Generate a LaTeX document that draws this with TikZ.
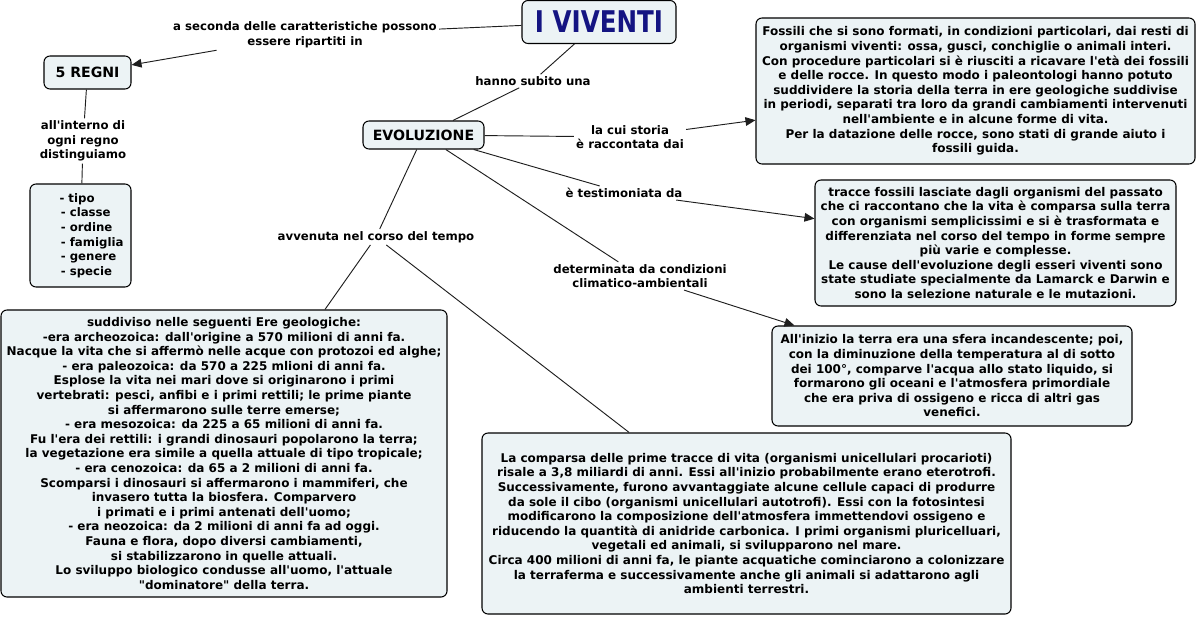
\documentclass[tikz,border=0pt]{standalone}
\usepackage{fontspec}
\setmainfont{DejaVu Sans}
\usetikzlibrary{arrows.meta}
\definecolor{boxfill}{RGB}{236,243,245}
\definecolor{navy}{RGB}{20,20,130}
\definecolor{linec}{RGB}{30,30,30}
\newcommand\ap{\textquotesingle}
\newcommand\qd{\textquotedbl}
\tikzset{
  x=0.75pt,y=-0.75pt,
  cbox/.style={draw=black,line width=0.8pt,rounded corners=4.5pt,fill=boxfill,align=center,inner sep=0pt},
  bodytext/.style={font=\bfseries\fontsize{9.0}{10.95}\selectfont},
  lbl/.style={align=center,inner sep=1.5pt,font=\bfseries\fontsize{8.8}{10.95}\selectfont},
  conc/.style={font=\bfseries\fontsize{10.6}{12}\selectfont},
  link/.style={draw=linec,line width=0.7pt},
  arr/.style={link,-{Triangle[length=7.5pt,width=6.5pt]}}
}
\begin{document}
\begin{tikzpicture}
\useasboundingbox (0,0) rectangle (1198,617);
% concept boxes
\node[cbox,minimum width=115.5pt,minimum height=32.25pt,text=navy,font=\bfseries\fontsize{19}{22}\selectfont] (viventi) at (599,22) {\scalebox{0.97}[1.18]{I VIVENTI}};
\node[cbox,conc,minimum width=65.25pt,minimum height=24.75pt] (regni) at (87.5,72.5) {5 REGNI};
\node[cbox,font=\bfseries\fontsize{8.8}{10.95}\selectfont,align=left,minimum width=75.75pt,minimum height=77.25pt] (list) at (80.5,235.5) {\hspace*{16.5pt}- tipo\\ \hspace*{17.5pt}- classe\\ \hspace*{17.5pt}- ordine\\ \hspace*{17.5pt}- famiglia\\ \hspace*{17.5pt}- genere\\ \hspace*{17.5pt}- specie};
\node[cbox,conc,minimum width=90.75pt,minimum height=21pt] (evol) at (423.5,135) {EVOLUZIONE};
\node[cbox,bodytext,minimum width=329.25pt,minimum height=109.5pt] (fossili) at (975.5,91) {Fossili che si sono formati, in condizioni particolari, dai resti di\\ organismi viventi: ossa, gusci, conchiglie o animali interi.\\ Con procedure particolari si è riusciti a ricavare l\ap età dei fossili\\ e delle rocce. In questo modo i paleontologi hanno potuto\\ suddividere la storia della terra in ere geologiche suddivise\\ in periodi, separati tra loro da grandi cambiamenti intervenuti\\ nell\ap ambiente e in alcune forme di vita.\\ Per la datazione delle rocce, sono stati di grande aiuto i\\ fossili guida.};
\node[cbox,bodytext,minimum width=270.75pt,minimum height=94.5pt] (tracce) at (995.5,243) {tracce fossili lasciate dagli organismi del passato\\ che ci raccontano che la vita è comparsa sulla terra\\ con organismi semplicissimi e si è trasformata e\\ differenziata nel corso del tempo in forme sempre\\ più varie e complesse.\\ Le cause dell\ap evoluzione degli esseri viventi sono\\ state studiate specialmente da Lamarck e Darwin e\\ sono la selezione naturale e le mutazioni.};
\node[cbox,bodytext,minimum width=270pt,minimum height=75pt] (inizio) at (952,376) {All\ap inizio la terra era una sfera incandescente; poi,\\ con la diminuzione della temperatura al di sotto\\ dei 100°, comparve l\ap acqua allo stato liquido, si\\ formarono gli oceani e l\ap atmosfera primordiale\\ che era priva di ossigeno e ricca di altri gas\\ venefici.};
\node[cbox,bodytext,minimum width=334.5pt,minimum height=215.25pt] (suddiviso) at (224,453.5) {suddiviso nelle seguenti Ere geologiche:\\ -era archeozoica: dall\ap origine a 570 milioni di anni fa.\\ Nacque la vita che si affermò nelle acque con protozoi ed alghe;\\ - era paleozoica: da 570 a 225 mlioni di anni fa.\\ Esplose la vita nei mari dove si originarono i primi\\ vertebrati: pesci, anfibi e i primi rettili; le prime piante\\ si affermarono sulle terre emerse;\\ - era mesozoica: da 225 a 65 milioni di anni fa.\\ Fu l\ap era dei rettili: i grandi dinosauri popolarono la terra;\\ la vegetazione era simile a quella attuale di tipo tropicale;\\ - era cenozoica: da 65 a 2 milioni di anni fa.\\ Scomparsi i dinosauri si affermarono i mammiferi, che\\ invasero tutta la biosfera. Comparvero\\ i primati e i primi antenati dell\ap uomo;\\ - era neozoica: da 2 milioni di anni fa ad oggi.\\ Fauna e flora, dopo diversi cambiamenti,\\ si stabilizzarono in quelle attuali.\\ Lo sviluppo biologico condusse all\ap uomo, l\ap attuale\\ \qd dominatore\qd{} della terra.};
\node[cbox,bodytext,minimum width=396.75pt,minimum height=135.75pt] (comparsa) at (746.5,523.5) {La comparsa delle prime tracce di vita (organismi unicellulari procarioti)\\ risale a 3,8 miliardi di anni. Essi all\ap inizio probabilmente erano eterotrofi.\\ Successivamente, furono avvantaggiate alcune cellule capaci di produrre\\ da sole il cibo (organismi unicellulari autotrofi). Essi con la fotosintesi\\ modificarono la composizione dell\ap atmosfera immettendovi ossigeno e\\ riducendo la quantità di anidride carbonica. I primi organismi pluricelluari,\\ vegetali ed animali, si svilupparono nel mare.\\ Circa 400 milioni di anni fa, le piante acquatiche cominciarono a colonizzare\\ la terraferma e successivamente anche gli animali si adattarono agli\\ ambienti terrestri.};
% linking phrases
\node[lbl] (lblA) at (305,35) {a seconda delle caratteristiche possono\\ essere ripartiti in};
\node[lbl] (lblB) at (533,81) {hanno subito una};
\node[lbl] (lblC) at (83,141) {all\ap interno di\\ ogni regno\\ distinguiamo};
\node[lbl] (lblD) at (630,137) {la cui storia\\ è raccontata dai};
\node[lbl] (lblE) at (624,193) {è testimoniata da};
\node[lbl] (lblF) at (376,237) {avvenuta nel corso del tempo};
\node[lbl] (lblG) at (640,276) {determinata da condizioni\\ climatico-ambientali};
% connectors
\draw[link] (viventi) -- (lblA);
\draw[arr] (lblA) -- (regni);
\draw[link] (viventi) -- (lblB);
\draw[link] (lblB) -- (evol);
\draw[link] (regni) -- (lblC);
\draw[link] (lblC) -- (list);
\draw[link] (evol) -- (lblD);
\draw[arr] (lblD) -- (fossili);
\draw[link] (evol) -- (lblE);
\draw[arr] (lblE) -- (tracce);
\draw[link] (evol) -- (lblF);
\draw[link] (lblF) -- (suddiviso);
\draw[link] (lblF) -- (comparsa);
\draw[link] (evol) -- (lblG);
\draw[arr] (lblG) -- (inizio);
\end{tikzpicture}
\end{document}
